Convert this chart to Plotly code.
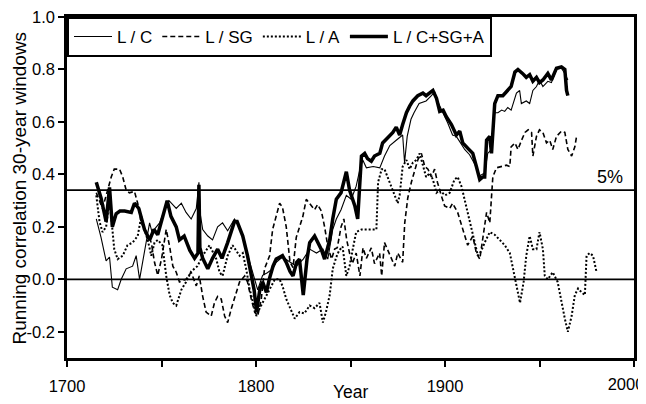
import plotly.graph_objects as go

# ---------------- data ----------------
lc_years = [1715.5, 1718, 1720.7, 1722.5, 1724, 1726.8, 1728.7, 1731.3, 1734.7, 1736.6, 1738.4, 1740, 1742,
            1743.7, 1745, 1749, 1751.6, 1754, 1757.8, 1760.5, 1763, 1765.7, 1768.4, 1769.8, 1770.5, 1771.8,
            1774.5, 1777, 1779.7, 1782.3, 1785, 1788.6, 1791.3, 1794, 1796.6, 1799.3, 1800.9, 1803.5, 1806,
            1808.8, 1810.7, 1814, 1818, 1821.3, 1825, 1828.4, 1832, 1835.4, 1838, 1840.6, 1842.5, 1845,
            1847.8, 1850.4, 1853, 1855, 1856.5, 1858.4, 1862, 1865.5, 1868, 1870.8, 1874.2, 1877.6, 1878.6,
            1880, 1882, 1883.6, 1886.3, 1890, 1892.8, 1894.5, 1896, 1899, 1901.5, 1904, 1906, 1907.8, 1910.4,
            1913, 1915.7, 1918.4, 1921, 1922.6, 1924.6, 1926.3, 1928, 1930, 1931.6, 1933.2, 1935, 1937.8,
            1939.5, 1940.4, 1943, 1944.8, 1946.5, 1948.4, 1950, 1951.8, 1954.4, 1956.3, 1959, 1961.6, 1963.4,
            1965]
lc_vals = [0.23, 0.16, 0.07, 0.085, -0.03, -0.04, 0.0, 0.04, 0.05, 0.09, 0.0, 0.065, 0.15,
           0.215, 0.18, 0.215, 0.265, 0.30, 0.27, 0.29, 0.255, 0.23, 0.27, 0.37, 0.25, 0.19,
           0.165, 0.15, 0.20, 0.215, 0.185, 0.23, 0.20, 0.13, 0.065, 0.0, -0.04, 0.015, 0.025,
           0.04, 0.065, 0.085, 0.065, 0.05, 0.077, 0.115, 0.10, 0.115, 0.077, 0.19, 0.23, 0.265,
           0.32, 0.305, 0.355, 0.42, 0.455, 0.425, 0.43, 0.425, 0.47, 0.51, 0.53, 0.55, 0.445,
           0.545, 0.61, 0.635, 0.67, 0.68, 0.70, 0.715, 0.68, 0.635, 0.595, 0.55, 0.545, 0.525, 0.495,
           0.475, 0.44, 0.395, 0.405, 0.48, 0.495, 0.635, 0.635, 0.645, 0.64, 0.655, 0.645, 0.71,
           0.72, 0.67, 0.68, 0.67, 0.72, 0.735, 0.76, 0.735, 0.755, 0.75, 0.80, 0.805, 0.785,
           0.76]

sg_years = [1715.5, 1718.8, 1721.5, 1723.4, 1725, 1727.8, 1729.5, 1731.3, 1733, 1735.7, 1737.4, 1739.3, 1742,
            1744.6, 1746.3, 1748, 1750, 1751.6, 1752.5, 1754.3, 1756, 1757.8, 1759.5, 1763, 1765.7, 1768.4,
            1770, 1771.8, 1773.6, 1776.3, 1778, 1779.7, 1781.6, 1783.4, 1785, 1787, 1789.5, 1791.3, 1794,
            1795.5, 1797.5, 1799.3, 1800.9, 1802.8, 1804.5, 1807.2, 1808.8, 1810.7, 1812.5, 1814, 1816, 1818,
            1819.6, 1821.3, 1823, 1824.8, 1826.6, 1828.4, 1831, 1832.6, 1834.6, 1836.3, 1838, 1840, 1841.6,
            1843, 1845, 1846.5, 1848, 1849.5, 1851, 1853, 1855, 1856.6, 1858.4, 1861, 1862.7, 1865.4, 1866.5, 1868,
            1870.8, 1873.4, 1875, 1877.6, 1878.7, 1880.3, 1882.2, 1884, 1885.6, 1887.5, 1889.3, 1891, 1892.8,
            1894.5, 1896, 1898, 1899.8, 1902.5, 1904, 1906.7, 1909.4, 1912, 1914.7, 1916.6, 1918.4, 1920,
            1922, 1923.7, 1924.6, 1925.3, 1927.2, 1930, 1932.5, 1934.3, 1935, 1937, 1938.6, 1940.5, 1942.3,
            1944, 1945.8, 1946.5, 1948.4, 1950, 1951.8, 1953.7, 1955.4, 1957, 1959, 1961.6, 1963.4, 1965,
            1967, 1968.7, 1969.5]
sg_vals = [0.33, 0.27, 0.34, 0.39, 0.42, 0.42, 0.39, 0.34, 0.33, 0.335, 0.29, 0.215, 0.18,
           0.14, 0.065, 0.015, 0.077, 0.14, 0.19, 0.125, 0.05, 0.027, -0.01, 0.0, 0.027, -0.025,
           0.013, -0.065, -0.125, -0.14, -0.09, -0.065, -0.075, -0.14, -0.165, -0.11, -0.05, -0.01, 0.013,
           -0.01, -0.075, -0.125, -0.14, -0.075, 0.04, 0.09, 0.19, 0.24, 0.29, 0.275, 0.20, 0.065,
           0.045, 0.16, 0.20, 0.24, 0.305, 0.29, 0.265, 0.285, 0.26, 0.20, 0.125, 0.077, 0.115,
           0.12, 0.20, 0.23, 0.15, 0.10, 0.06, 0.10, 0.013, 0.12, 0.08, 0.12, 0.06, 0.10, 0.013, 0.14,
           0.09, 0.05, 0.10, 0.065, 0.215, 0.31, 0.37, 0.42, 0.455, 0.48, 0.43, 0.42, 0.39,
           0.42, 0.37, 0.32, 0.28, 0.27, 0.29, 0.255, 0.19, 0.13, 0.165, 0.10, 0.077, 0.165,
           0.255, 0.215, 0.32, 0.39, 0.425, 0.43, 0.435, 0.43, 0.505, 0.52, 0.495, 0.53, 0.56,
           0.57, 0.56, 0.47, 0.545, 0.57, 0.56, 0.52, 0.53, 0.495, 0.545, 0.565, 0.56, 0.495,
           0.47, 0.505, 0.54]

a_years = [1715.5, 1717.2, 1718.8, 1720.7, 1722.5, 1725, 1726.8, 1729.5, 1732, 1734.7, 1737.4, 1739.3, 1741,
           1742.7, 1744.6, 1746.3, 1748, 1750.5, 1752.5, 1754.3, 1756, 1757.8, 1760.5, 1763, 1765.7, 1769,
           1771.8, 1775.4, 1779, 1780.7, 1782.3, 1785, 1787.6, 1791.3, 1793, 1794.8, 1796.6, 1798.3, 1800.2,
           1802, 1803.5, 1805.5, 1807.2, 1810, 1812.5, 1814, 1816, 1818, 1820.5, 1823, 1825.6, 1828.4, 1831,
           1833.6, 1835.4, 1837, 1839, 1840.6, 1842.5, 1844, 1845.8, 1847.8, 1849.5, 1851.2, 1853, 1855.8,
           1858.4, 1861, 1863.7, 1864.6, 1866.5, 1868, 1869.7, 1871.6, 1873.4, 1875, 1876, 1877.6, 1879.6,
           1881.3, 1883, 1884.8, 1886.6, 1888.3, 1890, 1892, 1893.6, 1895.5, 1897.2, 1900, 1902.5, 1905,
           1906.7, 1908.7, 1910.4, 1912, 1914, 1915.7, 1917.4, 1919.3, 1921, 1923.7, 1926.3, 1929, 1931.6,
           1934.3, 1936, 1938, 1939.7, 1941.6, 1943, 1944.8, 1946.5, 1948.4, 1950, 1951.8, 1952.8, 1954.4,
           1957, 1959.6, 1961.6, 1963.4, 1965, 1967, 1968.7, 1970.4, 1972.3, 1974, 1974.9, 1976.6, 1978.3,
           1980.2]
a_vals = [0.32, 0.22, 0.18, 0.20, 0.305, 0.115, 0.077, 0.09, 0.13, 0.14, 0.165, 0.24, 0.19,
          0.15, 0.09, 0.14, 0.15, 0.13, 0.013, -0.06, -0.09, -0.10, -0.04, -0.01, 0.03, 0.05,
          0.09, 0.13, 0.077, 0.027, 0.013, 0.09, 0.13, 0.09, 0.10, 0.04, -0.035, -0.09, -0.14,
          -0.11, -0.09, -0.06, -0.035, 0.0, 0.0, -0.025, -0.075, -0.11, -0.15, -0.125, -0.13, -0.10, -0.11,
          -0.09, -0.165, -0.125, -0.06, 0.04, 0.085, 0.11, 0.125, 0.013, 0.05, 0.115, 0.18, 0.19,
          0.19, 0.19, 0.19, 0.37, 0.42, 0.42, 0.39, 0.355, 0.32, 0.29, 0.32, 0.43, 0.455,
          0.42, 0.445, 0.455, 0.48, 0.43, 0.39, 0.405, 0.38, 0.33, 0.34, 0.32, 0.33, 0.38,
          0.39, 0.355, 0.305, 0.255, 0.20, 0.15, 0.09, 0.11, 0.14, 0.18, 0.17, 0.15, 0.13,
          0.10, 0.04, -0.035, -0.09, -0.01, 0.09, 0.165, 0.115, 0.115, 0.18, 0.115, 0.013, 0.0,
          0.027, -0.01, -0.09, -0.15, -0.20, -0.14, -0.06, -0.035, -0.05, -0.06, 0.09, 0.10, 0.09,
          0.027]

all_years = [1715.5, 1718, 1720.7, 1722.5, 1724, 1726, 1728, 1730.5, 1734, 1735.7, 1738, 1741, 1743.7,
             1746, 1748, 1750.5, 1753, 1755, 1757.8, 1759.5, 1762, 1765, 1767.5, 1769.3, 1769.8, 1770.3,
             1771.8, 1774.5, 1777, 1779.7, 1782, 1785, 1788.6, 1790, 1793, 1795.5, 1797.6, 1799, 1800.3,
             1802, 1803.5, 1805.5, 1807, 1809, 1810.7, 1814, 1816, 1818, 1819.6, 1821.5, 1823, 1825, 1827,
             1828.4, 1831, 1834.5, 1836.3, 1839, 1840.6, 1842.5, 1845, 1847.8, 1849.5, 1852.3, 1853.8,
             1855.8, 1857.5, 1859, 1861, 1862.7, 1865.5, 1867, 1869.7, 1872.4, 1874.2, 1876, 1877.6, 1879.6,
             1881.3, 1883, 1885.6, 1888.3, 1890, 1892, 1893.6, 1895.5, 1897.2, 1899, 1900.7, 1903.4, 1906,
             1907.8, 1909.4, 1912, 1914.7, 1916.6, 1918.4, 1920, 1921, 1922, 1923.7, 1924.6, 1926.3, 1928,
             1930.6, 1932.5, 1935, 1937, 1938.6, 1941, 1943, 1944.8, 1946.5, 1948.4, 1950, 1951.8, 1954.4,
             1956.3, 1959, 1961.6, 1963.4, 1964.3, 1965]
all_vals = [0.37, 0.31, 0.22, 0.35, 0.20, 0.25, 0.26, 0.26, 0.255, 0.29, 0.27, 0.19, 0.15,
            0.19, 0.17, 0.24, 0.30, 0.24, 0.20, 0.15, 0.165, 0.11, 0.08, 0.10, 0.36, 0.12,
            0.08, 0.04, 0.08, 0.115, 0.08, 0.14, 0.22, 0.22, 0.165, 0.09, 0.0, -0.04, -0.125,
            -0.04, -0.01, -0.05, 0.0, 0.05, 0.077, 0.09, 0.065, 0.03, 0.013, 0.065, 0.077, -0.06, 0.077,
            0.14, 0.165, 0.115, 0.077, 0.15, 0.23, 0.305, 0.33, 0.41, 0.34, 0.28, 0.23,
            0.47, 0.48, 0.46, 0.45, 0.47, 0.48, 0.52, 0.54, 0.56, 0.58, 0.55, 0.59, 0.635,
            0.66, 0.68, 0.70, 0.71, 0.70, 0.71, 0.72, 0.69, 0.64, 0.645, 0.62, 0.59, 0.55,
            0.565, 0.52, 0.50, 0.48, 0.43, 0.38, 0.39, 0.39, 0.53, 0.545, 0.48, 0.67, 0.70,
            0.70, 0.715, 0.735, 0.79, 0.80, 0.785, 0.77, 0.78, 0.755, 0.77, 0.75, 0.76, 0.785,
            0.76, 0.805, 0.81, 0.80, 0.72, 0.70]

series_names = ["L / C", "L / SG", "L / A", "L / C+SG+A"]
ref_levels = [0.0, 0.34]          # zero line and 5% significance line
sig_label = "5%"

x_range = [1700, 2000]
x_tickvals = [1700, 1750, 1800, 1850, 1900, 1950, 2000]
x_ticktext = ["1700", "", "1800", "", "1900", "", ""]
x_end_tick = [2000]               # last label, drawn on an overlay axis so it can be nudged inside
x_end_text = ["2000"]
y_tickvals = [-0.2, 0.0, 0.2, 0.4, 0.6, 0.8, 1.0]
y_ticktext = ["-0.2", "0.0", "0.2", "0.4", "0.6", "0.8", "1.0"]

FONT = "Liberation Sans, Arial, sans-serif"

fig = go.Figure()
fig.add_trace(go.Scatter(x=lc_years, y=lc_vals, mode="lines", name=series_names[0],
                         line=dict(color="black", width=1.1)))
fig.add_trace(go.Scatter(x=sg_years, y=sg_vals, mode="lines", name=series_names[1],
                         line=dict(color="black", width=1.6, dash="5px,3px")))
fig.add_trace(go.Scatter(x=a_years, y=a_vals, mode="lines", name=series_names[2],
                         line=dict(color="black", width=2, dash="2px,2px")))
fig.add_trace(go.Scatter(x=all_years, y=all_vals, mode="lines", name=series_names[3],
                         line=dict(color="black", width=3.5)))
# empty trace that activates the overlay axis carrying the last tick label
fig.add_trace(go.Scatter(x=[], y=[], xaxis="x2", yaxis="y", mode="lines",
                         showlegend=False, hoverinfo="skip"))

for lv in ref_levels:
    fig.add_hline(y=lv, line=dict(color="black", width=1.8), layer="below")

fig.add_annotation(x=1987.5, y=0.34, xref="x", yref="y", text=sig_label, showarrow=False,
                   xanchor="center", yanchor="bottom", yshift=1,
                   font=dict(family=FONT, size=18, color="black"))
fig.add_annotation(x=0.5, y=-0.0997, xref="paper", yref="paper", text="Year", showarrow=False,
                   xanchor="center", yanchor="middle", font=dict(family=FONT, size=17.5, color="black"))
fig.add_annotation(x=-0.0829, y=0.5, xref="paper", yref="paper", text="Running correlation 30-year windows",
                   showarrow=False, textangle=-90, xanchor="center", yanchor="middle",
                   font=dict(family=FONT, size=19, color="black"))

# the page body adds an 8 px offset, so the figure is 8 px smaller and margins shifted
fig.update_layout(
    width=638, height=396,
    margin=dict(l=59, r=12, t=9, b=46, autoexpand=False),
    paper_bgcolor="white", plot_bgcolor="white",
    font=dict(family=FONT, size=16.5, color="black"),
    showlegend=True,
    legend=dict(orientation="h", x=0, y=1, xanchor="left", yanchor="top",
                bgcolor="white", bordercolor="black", borderwidth=2,
                font=dict(family=FONT, size=17, color="black"),
                itemwidth=38, tracegroupgap=0),
    xaxis2=dict(overlaying="x", anchor="y", side="bottom", range=x_range,
                showgrid=False, zeroline=False, showline=False, automargin=False,
                ticks="outside", ticklen=6, tickwidth=2, tickcolor="rgba(0,0,0,0)",
                tickvals=x_end_tick, ticktext=x_end_text, ticklabelstandoff=5,
                ticklabelshift=-8, ticklabeloverflow="allow",
                tickfont=dict(family=FONT, size=16.5, color="black")),
)
fig.update_xaxes(selector=dict(anchor="y", overlaying=None))
fig.layout.xaxis.update(range=x_range, showgrid=False, zeroline=False, automargin=False,
                        showline=True, linecolor="black", linewidth=2.5, mirror=True,
                        ticks="outside", ticklen=6, tickwidth=2, tickcolor="black",
                        tickvals=x_tickvals, ticktext=x_ticktext, ticklabelstandoff=5,
                        ticklabeloverflow="allow", tickfont=dict(size=16.5))
fig.update_yaxes(range=[-0.3, 1.0], showgrid=False, zeroline=False, automargin=False,
                 showline=True, linecolor="black", linewidth=2.5, mirror=True,
                 ticks="outside", ticklen=6, tickwidth=2, tickcolor="black",
                 tickvals=y_tickvals, ticktext=y_ticktext, tickfont=dict(size=16.5),
                 ticklabeloverflow="allow")

fig.write_html("out.html")
